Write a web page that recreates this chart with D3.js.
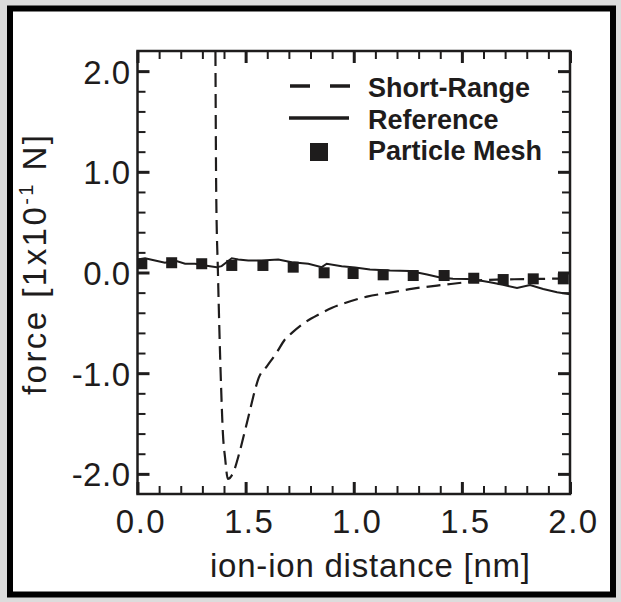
<!DOCTYPE html>
<html><head><meta charset="utf-8">
<script src="https://cdn.jsdelivr.net/npm/d3@7"></script>
<style>body{margin:0;background:#dcdcdc}svg{display:block}</style>
</head><body><svg id="c" width="621" height="602"></svg>
<script>
// ---- data ----
const xMajorTicks = [0, 0.5, 1.0, 1.5, 2.0];
const xTickLabels = ["0.0", "1.5", "1.0", "1.5", "2.0"];
const yMajorTicks = [-2, -1, 0, 1, 2];
const yTickLabels = ["-2.0", "-1.0", "0.0", "1.0", "2.0"];
const seriesNames = ["Short-Range", "Reference", "Particle Mesh"];

const shortRangeX = [0.360, 0.364, 0.372, 0.386, 0.395, 0.405, 0.418, 0.442, 0.470, 0.497, 0.520, 0.543, 0.560, 0.599, 0.645, 0.680, 0.714, 0.765, 0.844, 0.900, 0.950, 1.061, 1.168, 1.274, 1.385, 1.505, 1.600, 1.800, 2.000];
const shortRangeY = [2.40, 0.80, 0.00, -1.10, -1.60, -1.84, -2.05, -1.99, -1.80, -1.57, -1.37, -1.17, -1.05, -0.93, -0.79, -0.67, -0.60, -0.51, -0.41, -0.35, -0.31, -0.24, -0.20, -0.16, -0.13, -0.10, -0.075, -0.065, -0.06];

const referenceX = [0.0, 0.035, 0.081, 0.127, 0.173, 0.220, 0.266, 0.312, 0.366, 0.389, 0.436, 0.466, 0.512, 0.574, 0.651, 0.713, 0.790, 0.852, 0.875, 0.944, 1.006, 1.075, 1.168, 1.260, 1.339, 1.399, 1.459, 1.524, 1.570, 1.630, 1.690, 1.755, 1.815, 1.876, 1.940, 2.0];
const referenceY = [0.13, 0.142, 0.119, 0.097, 0.119, 0.087, 0.087, 0.07, 0.053, 0.063, 0.142, 0.129, 0.119, 0.119, 0.129, 0.102, 0.087, 0.053, 0.087, 0.063, 0.05, 0.03, 0.02, 0.015, -0.02, -0.05, -0.063, -0.065, -0.075, -0.097, -0.122, -0.154, -0.124, -0.164, -0.196, -0.215];

const meshX = [0.02, 0.158, 0.297, 0.436, 0.58, 0.72, 0.863, 0.997, 1.136, 1.275, 1.418, 1.555, 1.691, 1.830, 1.969];
const meshY = [0.087, 0.097, 0.087, 0.07, 0.07, 0.053, -0.003, -0.01, -0.023, -0.03, -0.03, -0.057, -0.07, -0.063, -0.063];

// ---- drawing ----
const INK = "#1e1c1c";
const FONT = "'Liberation Sans', Arial, Helvetica, sans-serif";
const svg = d3.select("#c");
svg.append("rect").attr("width", 621).attr("height", 602).attr("fill", "#dcdcdc");
svg.append("rect").attr("x", 10).attr("y", 8.5).attr("width", 603).attr("height", 586)
  .attr("fill", "#fff").attr("stroke", "#000").attr("stroke-width", 6);

const L = 137.5, R = 570, T = 51, B = 494;
const x = d3.scaleLinear().domain([0, 2]).range([L, R]);
const y = d3.scaleLinear().domain([-2.2, 2.2]).range([B, T]);

const xMinor = d3.range(0, 2.0001, 0.1).map(v => +v.toFixed(2)).filter(v => !xMajorTicks.some(m => Math.abs(m - v) < 1e-6));
const yMinor = d3.range(-2.2, 2.2001, 0.2).map(v => +v.toFixed(2)).filter(v => !yMajorTicks.some(m => Math.abs(m - v) < 1e-6) && v > -2.19 && v < 2.19);

function axisGroup(axisFn, scale, tx, ty, vals, size, width, fmt) {
  const g = svg.append("g").attr("transform", `translate(${tx},${ty})`)
    .call(axisFn(scale).tickValues(vals).tickSize(-size).tickPadding(0).tickFormat(fmt || (() => "")));
  g.select(".domain").remove();
  g.selectAll(".tick line").attr("stroke", INK).attr("stroke-width", width);
  return g;
}
// minor ticks
axisGroup(d3.axisBottom, x, 0, B, xMinor, 8, 2);
axisGroup(d3.axisTop, x, 0, T, xMinor, 8, 2);
axisGroup(d3.axisLeft, y, L, 0, yMinor, 8, 2);
axisGroup(d3.axisRight, y, R, 0, yMinor, 8, 2);
// major ticks
const gb = axisGroup(d3.axisBottom, x, 0, B, xMajorTicks, 12, 3, (d, i) => xTickLabels[i]);
axisGroup(d3.axisTop, x, 0, T, xMajorTicks, 12, 3);
const gl = axisGroup(d3.axisLeft, y, L, 0, yMajorTicks, 12, 3, (d, i) => yTickLabels[i]);
axisGroup(d3.axisRight, y, R, 0, yMajorTicks, 12, 3);

gb.selectAll(".tick text").attr("y", 39).attr("dy", null).attr("dx", 3)
  .attr("font-family", FONT).attr("font-size", 33).attr("fill", INK).attr("letter-spacing", 1.5);
gl.selectAll(".tick text").attr("x", -7).attr("dy", "0.36em")
  .attr("font-family", FONT).attr("font-size", 33).attr("fill", INK).attr("letter-spacing", 0.5);

// clip
svg.append("clipPath").attr("id", "clip").append("rect")
  .attr("x", L).attr("y", T).attr("width", R - L).attr("height", B - T);
const plot = svg.append("g").attr("clip-path", "url(#clip)");

const line = d3.line().x(d => x(d[0])).y(d => y(d[1]));
const smooth = d3.line().x(d => x(d[0])).y(d => y(d[1])).curve(d3.curveMonotoneX);
plot.append("path").datum(referenceX.map((v, i) => [v, referenceY[i]]))
  .attr("d", line).attr("fill", "none").attr("stroke", INK).attr("stroke-width", 2);
plot.append("path").datum(shortRangeX.map((v, i) => [v, shortRangeY[i]]))
  .attr("d", smooth).attr("fill", "none").attr("stroke", INK).attr("stroke-width", 2.2)
  .attr("stroke-dasharray", "14,7");
const S = 11;
plot.selectAll("rect.pm").data(meshX.map((v, i) => [v, meshY[i]])).enter().append("rect")
  .attr("class", "pm").attr("x", d => x(d[0]) - S / 2).attr("y", d => y(d[1]) - S / 2)
  .attr("width", S).attr("height", S).attr("fill", INK);

// frame
svg.append("rect").attr("x", L).attr("y", T).attr("width", R - L).attr("height", B - T)
  .attr("fill", "none").attr("stroke", INK).attr("stroke-width", 2.5);

// legend
const lg = svg.append("g");
lg.append("line").attr("x1", 290).attr("x2", 350).attr("y1", 86).attr("y2", 86)
  .attr("stroke", INK).attr("stroke-width", 3.5).attr("stroke-dasharray", "20,20");
lg.append("line").attr("x1", 289).attr("x2", 349).attr("y1", 118).attr("y2", 118)
  .attr("stroke", INK).attr("stroke-width", 3.5);
lg.append("rect").attr("x", 310).attr("y", 143).attr("width", 18).attr("height", 18).attr("fill", INK);
[97, 128.5, 160].forEach((by, i) => {
  lg.append("text").attr("x", 368).attr("y", by).text(seriesNames[i])
    .attr("font-family", FONT).attr("font-weight", "bold").attr("font-size", 27).attr("fill", INK);
});

// axis titles
svg.append("text").attr("x", 370).attr("y", 577).attr("text-anchor", "middle")
  .attr("font-family", FONT).attr("font-size", 33).attr("fill", INK)
  .attr("textLength", 320).attr("lengthAdjust", "spacing")
  .text("ion-ion distance [nm]");

const yt = svg.append("text").attr("transform", "translate(46,265) rotate(-90)")
  .attr("text-anchor", "middle").attr("font-family", FONT).attr("font-size", 33).attr("fill", INK)
  .attr("textLength", 260).attr("lengthAdjust", "spacing");
yt.append("tspan").text("force [1x10");
yt.append("tspan").attr("font-size", 20).attr("dy", -13).text("-1");
yt.append("tspan").attr("dy", 13).text(" N]");
</script></body></html>
